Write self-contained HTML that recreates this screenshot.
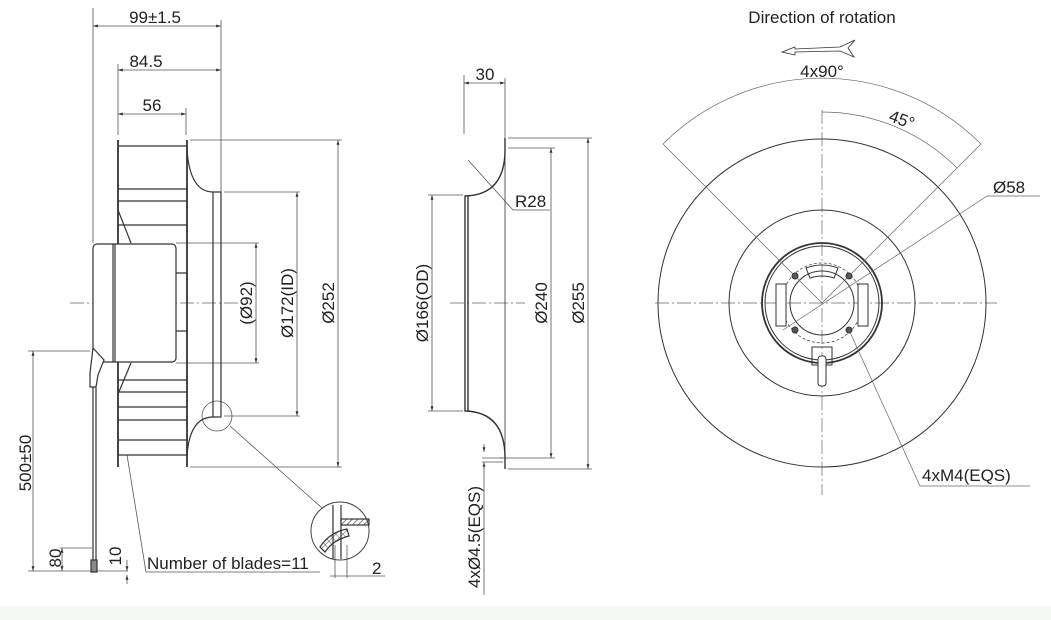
<!DOCTYPE html>
<html><head><meta charset="utf-8"><style>
body{margin:0;background:#fff}
svg{display:block}
text{font-family:"Liberation Sans",sans-serif;fill:#222;font-size:17px}
</style></head><body>
<svg width="1051" height="620" viewBox="0 0 1051 620" xmlns="http://www.w3.org/2000/svg">
<defs>
<marker id="a" viewBox="0 0 10 10" refX="10" refY="5" markerWidth="6" markerHeight="6" orient="auto-start-reverse"><path d="M0,2 L10,5 L0,8z" fill="#333"/></marker>
<pattern id="h" width="4" height="4" patternUnits="userSpaceOnUse" patternTransform="rotate(45)"><line x1="0" y1="0" x2="0" y2="4" stroke="#333" stroke-width="1.2"/></pattern>
<pattern id="x" width="5" height="5" patternUnits="userSpaceOnUse" patternTransform="rotate(45)"><path d="M0,0H5M0,0V5" stroke="#333" stroke-width="0.8" fill="none"/></pattern>
</defs>
<rect x="0" y="606" width="1051" height="14" fill="#f3f6f3"/>
<g fill="none" stroke="#555" stroke-width="0.8">
<line x1="93" y1="8" x2="93" y2="243"/><line x1="221" y1="20" x2="221" y2="192"/>
<line x1="118" y1="64" x2="118" y2="135"/><line x1="186" y1="108" x2="186" y2="135"/>
<line x1="93" y1="26" x2="221" y2="26" marker-start="url(#a)" marker-end="url(#a)"/>
<line x1="118" y1="70" x2="221" y2="70" marker-start="url(#a)" marker-end="url(#a)"/>
<line x1="118" y1="114" x2="186" y2="114" marker-start="url(#a)" marker-end="url(#a)"/>
<line x1="190" y1="140" x2="342" y2="140"/><line x1="190" y1="467" x2="342" y2="467"/>
<line x1="338" y1="140" x2="338" y2="467" marker-start="url(#a)" marker-end="url(#a)"/>
<line x1="224" y1="192" x2="300" y2="192"/><line x1="224" y1="416" x2="300" y2="416"/>
<line x1="297" y1="192" x2="297" y2="416" marker-start="url(#a)" marker-end="url(#a)"/>
<line x1="176" y1="243" x2="259" y2="243"/><line x1="176" y1="363" x2="259" y2="363"/>
<line x1="256" y1="243" x2="256" y2="363" marker-start="url(#a)" marker-end="url(#a)"/>
<line x1="28" y1="351" x2="90" y2="351"/><line x1="28" y1="571" x2="128" y2="571"/>
<line x1="33" y1="351" x2="33" y2="571" marker-start="url(#a)" marker-end="url(#a)"/>
<line x1="60" y1="548" x2="92" y2="548"/>
<line x1="62" y1="548" x2="62" y2="571" marker-start="url(#a)" marker-end="url(#a)"/>
<line x1="127" y1="560" x2="127" y2="571" marker-end="url(#a)"/><line x1="127" y1="584" x2="127" y2="575" marker-end="url(#a)"/>
<line x1="127" y1="455" x2="146" y2="572"/><line x1="146" y1="572" x2="320" y2="572"/>
<circle cx="217" cy="416" r="15"/><line x1="230" y1="426" x2="322" y2="508"/>
<line x1="335" y1="545" x2="335" y2="578"/><line x1="347" y1="545" x2="347" y2="578"/>
<line x1="330" y1="576" x2="385" y2="576"/>
</g>
<g fill="none" stroke="#666" stroke-width="0.7" stroke-dasharray="14,3,2,3">
<line x1="70" y1="303" x2="248" y2="303"/>
<line x1="450" y1="303" x2="525" y2="303"/>
<line x1="655" y1="303" x2="997" y2="303"/>
<line x1="822" y1="110" x2="822" y2="495"/>
</g>
<g fill="none" stroke="#333" stroke-width="1.2">
<line x1="118" y1="140" x2="118" y2="467" stroke-width="1.8"/>
<line x1="187" y1="140" x2="187" y2="467" stroke-width="1.8"/>
<path d="M187,150 Q190,192 213,192 L221,192 L221,417 L213,417 Q190,417 187,455"/>
<line x1="213" y1="192" x2="213" y2="417"/>
<path d="M118,146H187M118,189H187M118,201H187M118,225H187M118,380H187M118,392H187M118,407H187M118,420H187M118,440H187M118,455H187"/>
<line x1="118" y1="210" x2="131" y2="243"/><line x1="131" y1="363" x2="118" y2="394"/>
<rect x="93" y="244" width="83" height="118" rx="4" fill="#fff"/>
<line x1="113" y1="244" x2="113" y2="362"/><line x1="115" y1="244" x2="115" y2="362"/>
<path d="M176,273H187M176,331H187"/>
<path d="M93,348 L104,360 L98,375 L96,387 L90,387 L90,373 Z" fill="#fff"/>
<line x1="93" y1="387" x2="93" y2="560"/><line x1="96" y1="387" x2="96" y2="560"/>
<rect x="91" y="560" width="6" height="12" fill="#888"/>
<circle cx="340" cy="531" r="29" stroke="#444" stroke-width="1"/>
<rect x="341" y="519" width="28" height="6" fill="url(#h)"/>
<path d="M320,547 Q330,532 347,529 L349,536 Q333,540 325,552 Z" fill="url(#x)"/>
<line x1="333" y1="505" x2="333" y2="559"/><line x1="341" y1="505" x2="341" y2="559"/>
</g>
<g fill="none" stroke="#555" stroke-width="0.8">
<line x1="464" y1="75" x2="464" y2="134"/><line x1="505" y1="78" x2="505" y2="138"/>
<line x1="464" y1="83" x2="505" y2="83" marker-start="url(#a)" marker-end="url(#a)"/>
<line x1="508" y1="138" x2="592" y2="138"/><line x1="508" y1="469" x2="592" y2="469"/>
<line x1="588" y1="138" x2="588" y2="469" marker-start="url(#a)" marker-end="url(#a)"/>
<line x1="508" y1="148" x2="555" y2="148"/><line x1="500" y1="458" x2="555" y2="458"/>
<line x1="551" y1="148" x2="551" y2="458" marker-start="url(#a)" marker-end="url(#a)"/>
<line x1="428" y1="195" x2="463" y2="195"/><line x1="428" y1="411" x2="463" y2="411"/>
<line x1="432" y1="195" x2="432" y2="411" marker-start="url(#a)" marker-end="url(#a)"/>
<line x1="468" y1="160" x2="513" y2="210"/><line x1="513" y1="210" x2="550" y2="210"/>
<line x1="484" y1="444" x2="484" y2="452" marker-end="url(#a)"/><line x1="484" y1="470" x2="484" y2="462" marker-end="url(#a)"/>
<line x1="482" y1="458" x2="503" y2="458"/><line x1="482" y1="462" x2="503" y2="462"/>
<line x1="484" y1="462" x2="484" y2="595"/>
</g>
<g fill="none" stroke="#333" stroke-width="1.4">
<path d="M505,138 L505,150 Q505,195 465,196 L465,411 Q505,412 505,458 L505,469"/>
<line x1="468" y1="196" x2="468" y2="411"/>
<line x1="505" y1="150" x2="505" y2="458" stroke-width="0.8"/>
</g>
<g fill="none" stroke="#333" stroke-width="1">
<circle cx="822" cy="303" r="164"/>
<circle cx="822" cy="303" r="93"/>
<circle cx="822" cy="303" r="60" stroke-width="1.8"/>
<circle cx="822" cy="303" r="57"/>
<circle cx="822" cy="303" r="40" stroke-dasharray="3,2" stroke-width="0.7"/>
<circle cx="822" cy="303" r="32"/>
<path d="M806,268 Q822,262 838,268 L834,278 Q822,274 810,278 Z"/>
<path d="M776,284 L776,326 L786,326 L786,284 Z" fill="#fff"/>
<path d="M858,284 L858,326 L868,326 L868,284 Z" fill="#fff"/>
<rect x="812" y="347" width="20" height="18"/>
<rect x="818" y="356" width="8" height="30" rx="3" fill="#fff"/>
<circle cx="795" cy="276" r="3" fill="#555"/><circle cx="849" cy="276" r="3" fill="#555"/>
<circle cx="795" cy="330" r="3" fill="#555"/><circle cx="849" cy="330" r="3" fill="#555"/>
</g>
<g fill="none" stroke="#666" stroke-width="0.7">
<path d="M663,144 A225,225 0 0 1 981,144"/>
<path d="M822,112 A191,191 0 0 1 957,168"/>
<line x1="822" y1="303" x2="663" y2="144"/><line x1="822" y1="303" x2="981" y2="144"/>
<line x1="783" y1="330" x2="987" y2="196"/><line x1="987" y1="196" x2="1040" y2="196"/>
<line x1="849" y1="330" x2="920" y2="486"/><line x1="920" y1="486" x2="1030" y2="486"/>
<path d="M782,52 L795,47 L795,49 L840,47 L855,40 L848,48 L854,57 L840,51 L795,52 L795,55 Z" stroke="#333" stroke-width="0.8"/>
</g>
<text x="155" y="23" text-anchor="middle">99±1.5</text>
<text x="146" y="67" text-anchor="middle">84.5</text>
<text x="152" y="111" text-anchor="middle">56</text>
<text transform="translate(252,303) rotate(-90)" text-anchor="middle">(Ø92)</text>
<text transform="translate(293,303) rotate(-90)" text-anchor="middle">Ø172(ID)</text>
<text transform="translate(334,303) rotate(-90)" text-anchor="middle">Ø252</text>
<text transform="translate(31,463) rotate(-90)" text-anchor="middle">500±50</text>
<text transform="translate(61,558) rotate(-90)" text-anchor="middle">80</text>
<text transform="translate(121,556) rotate(-90)" text-anchor="middle">10</text>
<text x="147" y="569">Number of blades=11</text>
<text x="372" y="574">2</text>
<text x="485" y="80" text-anchor="middle">30</text>
<text x="515" y="207">R28</text>
<text transform="translate(428,303) rotate(-90)" text-anchor="middle">Ø166(OD)</text>
<text transform="translate(547,303) rotate(-90)" text-anchor="middle">Ø240</text>
<text transform="translate(584,303) rotate(-90)" text-anchor="middle">Ø255</text>
<text transform="translate(480,537) rotate(-90)" text-anchor="middle">4xØ4.5(EQS)</text>
<text x="822" y="23" text-anchor="middle">Direction of rotation</text>
<text x="822" y="77" text-anchor="middle">4x90°</text>
<text transform="translate(900,125) rotate(20)" text-anchor="middle">45°</text>
<text x="993" y="193">Ø58</text>
<text x="922" y="481">4xM4(EQS)</text>
</svg>
</body></html>
